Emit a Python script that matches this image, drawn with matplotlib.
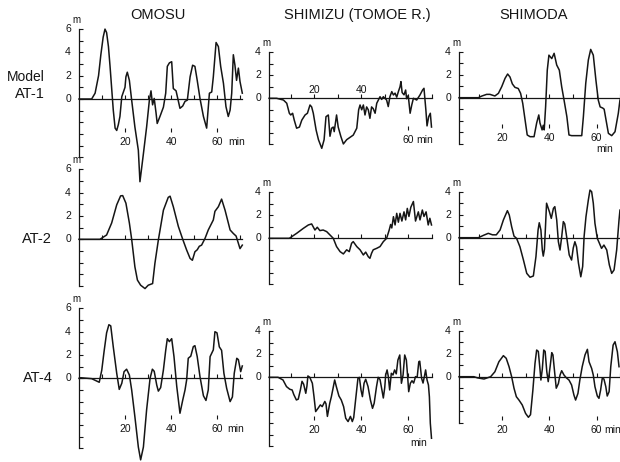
import numpy as np
import matplotlib
matplotlib.use('Agg')
import matplotlib.pyplot as plt

plt.rcParams['font.family'] = ['Liberation Sans', 'DejaVu Sans']

stations = ['OMOSU', 'SHIMIZU (TOMOE R.)', 'SHIMODA']
models = ['AT-1', 'AT-2', 'AT-4']
time_labels = [20, 40, 60]

# (time [min], water level [m])
omosu_at1 = [(0, 0), (5.5, 0), (7, 0.5), (8.5, 2), (9.5, 3.8), (10.5, 5.3), (11.3, 6.0), (12, 5.7),
             (12.8, 4.5), (13.5, 2.8), (14.9, -0.95), (15.7, -2.5), (16.4, -2.7), (17.1, -2.2),
             (17.8, -1.5), (18.6, 0.2), (19.3, 0.6), (20, 1.0), (20.4, 1.9), (21.0, 2.3), (21.9, 1.6),
             (22.9, -0.1), (24.3, -2.4), (25.8, -4.4), (26.5, -7.1), (28, -4.7), (29.4, -2.4),
             (30.6, -0.1), (31.3, 0.7), (32.0, -0.5), (32.7, 0.05), (33.5, -1.2), (34.0, -2.1),
             (35.2, -1.5), (36.7, -0.7), (37.7, 0.5), (38.4, 2.8), (39.3, 3.1), (40.3, 3.2),
             (41.0, 0.9), (42.2, 0.7), (43.9, -0.8), (45.1, -0.6), (46.1, -0.2), (47.1, -0.1),
             (48.3, 1.9), (49.4, 2.9), (50.4, 2.8), (51.4, 1.6), (52.6, 0.05), (54.1, -1.5),
             (55.5, -2.5), (56.7, 0.5), (57.7, 0.6), (58.4, 1.9), (59.6, 4.85), (60.6, 4.5),
             (61.6, 2.8), (62.8, 1.35), (63.9, -0.66), (64.9, -1.5), (65.7, -0.95), (66.4, 0.5),
             (67.1, 3.8), (67.8, 2.9), (68.5, 1.6), (69.3, 2.65), (70, 1.5), (71, 0.5)]
omosu_at2 = [(0, 0), (9.1, 0), (12, 0.37), (14.2, 1.4), (16.4, 2.96), (18.1, 3.73), (19, 3.75),
             (20.4, 3.1), (21.9, 1.4), (22.9, 0), (24.3, -2.36), (25.4, -3.5), (26.8, -3.94),
             (28.7, -4.23), (30.1, -3.94), (32, -3.8), (33, -2.07), (34.5, -0.06), (36.7, 2.5),
             (38.8, 3.6), (39.6, 3.7), (41, 2.8), (43.2, 1.1), (45.1, 0), (46.8, -0.92), (48.3, -1.64),
             (49.3, -1.8), (50.4, -1.07), (51.4, -0.9), (52.3, -0.6), (53.3, -0.5), (54.8, 0.08),
             (56.2, 0.8), (58.4, 1.66), (59.1, 2.4), (60.6, 2.8), (62, 3.45), (63.5, 2.5), (65.7, 0.8),
             (67.1, 0.5), (68.3, 0.28), (69.3, -0.35), (70, -0.8), (71, -0.5)]
omosu_at4 = [(0, 0), (0.7, 0.05), (5.5, -0.03), (8.8, -0.34), (9.9, 0.7), (10.9, 2.3), (12, 3.9),
             (13, 4.6), (13.8, 4.5), (14.9, 2.7), (16.4, 0.43), (17.5, -0.95), (18.6, -0.43),
             (19.6, 0.57), (20.7, 0.78), (21.9, 0.28), (22.9, -1), (24.3, -3.3), (25.8, -5.9),
             (26.8, -7.0), (28, -5.9), (29.4, -2.7), (30.9, 0), (31.9, 0.78), (32.7, 0.6), (33.8, -0.58),
             (34.5, -1.1), (35.5, -0.8), (36.7, 0.72), (37.7, 2.4), (38.4, 3.4), (39.3, 3.15),
             (40.3, 3.4), (41.3, 1.86), (42.5, -0.7), (43.9, -3.0), (45.1, -1.87), (46.1, -1),
             (46.8, -0.14), (47.5, 1.72), (48.6, 1.9), (49.7, 2.72), (50.4, 2.8), (51.4, 1.86),
             (52.6, 0.14), (54.1, -1.5), (55.2, -1.9), (56.2, -1), (57, 1.86), (58.4, 2.44), (59.1, 4.0),
             (60.0, 3.9), (61.0, 2.7), (62, 2.4), (63, 0.43), (64.2, -0.86), (65.7, -2.0), (66.7, -1.6),
             (67.5, 0.43), (68.6, 1.72), (69.3, 1.6), (70.3, 0.57), (71, 1.06)]

shimizu_at1 = [(0.9, 0), (4.1, 0), (7, -0.15), (8.4, -0.43), (9.5, -1.3), (10.1, -1.45), (10.9, -1.3),
               (11.6, -1.9), (12.6, -2.6), (13.8, -2.5), (14.8, -1.9), (16.2, -1.45), (17.2, -1.3),
               (18.3, -0.58), (19, -0.75), (19.7, -1.3), (20.9, -2.76), (21.9, -3.6), (23.3, -4.35),
               (24.3, -3.6), (25.1, -1.6), (26.1, -1.45), (26.8, -3.3), (27.5, -2.6), (28.2, -2.5),
               (28.6, -2.9), (29.6, -1.45), (30.3, -2.5), (31.4, -3.3), (32.5, -3.97), (33.9, -3.6),
               (35.3, -3.4), (36.7, -3.2), (38.2, -2.6), (39, -1.0), (39.6, -0.58), (40.3, -1),
               (41, -0.58), (41.7, -1.45), (42.4, -0.75), (43.1, -1.0), (43.8, -1.74), (44.5, -0.75),
               (45.2, -0.9), (46, -1.3), (46.7, -0.43), (48.1, 0.14), (48.8, -0.1), (49.5, 0.14),
               (50.9, -0.15), (51.6, -0.72), (52.3, 0.14), (53.1, 0.58), (53.8, 0.29), (54.5, 0.45),
               (55.2, 0.1), (55.9, 0.58), (56.6, 1.0), (57.0, 1.45), (57.5, 0.5), (58.3, 0.3),
               (59, 0.72), (59.4, -0.04), (60.1, 0.25), (60.9, -1.3), (61.6, -0.58), (62.3, 0),
               (63.7, -0.15), (65.1, 0.29), (66.2, 0.72), (66.8, 0.87), (67.6, -1.0), (68.1, -2.4),
               (68.8, -1.6), (69.5, -1.3), (70, -2.5)]
shimizu_at2 = [(0.9, 0), (9.5, 0), (12.6, 0.43), (15.5, 0.87), (17.6, 1.16), (19, 1.25), (20.4, 0.72),
               (21.4, 0.96), (22.5, 0.67), (23.9, 0.72), (25.4, 0.58), (26.8, 0.29), (28.2, 0),
               (29.6, -0.72), (31.1, -1.16), (32.5, -1.36), (33.9, -1.0), (35, -1.16), (36, -0.43),
               (36.7, -0.29), (38.2, -0.72), (39.6, -1.0), (41, -1.45), (42, -1.2), (43.1, -1.6),
               (43.8, -1.74), (44.5, -1.3), (45.2, -1.0), (46.7, -0.87), (48.1, -0.72), (49.5, -0.29),
               (50.9, 0), (52, 0.72), (52.6, 1.2), (53.1, 0.9), (53.8, 1.88), (54.5, 1.16), (55.2, 2.17),
               (55.9, 1.4), (56.6, 2.17), (57.4, 1.5), (58.3, 2.3), (59, 1.6), (59.7, 2.6), (60.4, 1.9),
               (61.2, 2.7), (62.3, 3.2), (63.2, 1.5), (64.4, 2.3), (65.1, 1.6), (66.1, 2.46),
               (66.8, 1.9), (67.7, 2.3), (68.6, 1.16), (69.3, 1.74), (70, 1.16)]
shimizu_at4 = [(0.9, 0), (4.7, 0), (6.8, -0.23), (8.3, -0.81), (9.7, -1.04), (10.7, -1.1), (11.4, -1.5),
               (12.5, -1.97), (13.3, -1.9), (14.2, -1.1), (14.9, -0.35), (15.6, -0.6), (16.5, -1.39),
               (17, -0.75), (17.4, 0.12), (18.2, 0), (19.3, -0.52), (20, -1.68), (20.7, -2.98),
               (21.7, -2.7), (22.7, -2.4), (23.5, -2.55), (24.6, -2.1), (25.1, -2.3), (25.7, -3.4),
               (26.7, -2.26), (27.4, -1.68), (28.1, -0.96), (28.8, -0.23), (29.5, -0.81), (30.6, -1.62),
               (31.6, -1.97), (32.6, -2.55), (33.5, -3.56), (34.5, -3.85), (35.5, -3.4), (36.3, -3.85),
               (36.9, -3.5), (37.7, -1.97), (38.7, -0.09), (39.3, 0), (40, -1.1), (40.6, -1.68),
               (41.3, -0.52), (42, -0.17), (43, -0.81), (44, -1.97), (44.9, -2.7), (45.6, -2.26),
               (46.6, -0.81), (47.3, 0), (48.1, -0.2), (48.9, -1.1), (49.5, -1.8), (50.1, -0.9),
               (50.5, 0.2), (51.1, 0.64), (51.6, 0.1), (52.2, -1.1), (52.9, 0.35), (53.6, 0.2),
               (54.3, 0.64), (55, 0.3), (55.7, 1.5), (56.5, 1.94), (57.2, -0.52), (57.9, 0.2),
               (58.6, 1.94), (59.3, 1.5), (59.8, 0.2), (60.3, -1.25), (61, -0.52), (61.7, -0.3),
               (62.4, -0.5), (63.2, 0.06), (63.9, 0), (64.6, 1.36), (65, 1.4), (65.8, -0.1),
               (66.4, -0.5), (67.1, 0.2), (67.5, 0.64), (68.1, -0.23), (68.7, -0.67), (69.1, -1.7),
               (69.5, -4.0), (70, -5.3)]

shimoda_at1 = [(1.7, 0), (9.9, 0), (11.3, 0.14), (13.4, 0.29), (14.8, 0.29), (16.9, 0.15), (18.4, 0.38),
               (19.8, 0.96), (21.2, 1.68), (22.3, 2.06), (23.3, 1.8), (24.3, 1.2), (25.4, 0.9),
               (26.8, 0.8), (27.8, 0.38), (28.7, -0.49), (29.7, -1.94), (30.6, -3.24), (31.8, -3.39),
               (33.5, -3.39), (34.6, -2.2), (35.5, -1.5), (36.0, -2.2), (36.9, -2.8), (37.4, -2.4),
               (37.8, -2.8), (38.4, -0.78), (39.1, 2.4), (39.8, 3.7), (41, 3.4), (42, 3.86),
               (43.1, 2.84), (44.2, 2.4), (45.2, 0.96), (46.2, -0.2), (47.4, -1.65), (48.3, -3.24),
               (49.4, -3.3), (53.7, -3.3), (54.4, -1.65), (55.4, 1.25), (56.5, 3.28), (57.5, 4.2),
               (58.6, 3.7), (59.7, 1.54), (60.7, -0.2), (61.5, -0.8), (62.6, -0.9), (63.2, -1.0),
               (64, -1.94), (65, -3.1), (66.4, -3.3), (67.8, -2.96), (69.2, -1.36), (69.9, -0.2)]
shimoda_at2 = [(1.7, 0), (9.9, 0), (12, 0.2), (14.1, 0.38), (15.9, 0.25), (17.5, 0.25), (19.1, 0.67),
               (20.5, 1.54), (22.2, 2.35), (23, 1.97), (24, 0.96), (25, 0.14), (26.1, -0.06),
               (27.5, -0.78), (29, -1.94), (30.4, -3.1), (31.8, -3.44), (33.2, -3.33), (34.3, -1.65),
               (35.2, 0.67), (35.7, 1.3), (36.4, 0.67), (37, -1.07), (37.4, -1.6), (37.9, -1.0),
               (38.8, 3.0), (40, 2.26), (40.8, 1.68), (41.7, 2.55), (42.3, 2.7), (43.1, 1.54),
               (43.8, -0.35), (44.5, -1.07), (45.2, 0.06), (45.9, 1.4), (46.5, 1.2), (47.3, 0.09),
               (48.4, -1.5), (49.4, -1.94), (50.1, -0.9), (50.8, -0.35), (51.5, -0.8), (52.3, -2.2),
               (53.3, -3.4), (54.1, -2.5), (54.7, 0.09), (55.5, 1.83), (56.5, 3.28), (57.2, 4.14),
               (57.9, 4.0), (58.6, 3.0), (59.3, 1.25), (60.3, -0.06), (61.2, -0.49), (62.1, -0.93),
               (63.1, -0.64), (64.3, -1.07), (65.4, -2.37), (66.4, -3.1), (67.4, -2.8), (68.5, -1.07),
               (69.5, 1.54), (69.9, 2.4)]
shimoda_at4 = [(1.7, 0), (8, 0), (9.5, -0.1), (12.3, -0.2), (15.1, 0), (16.9, 0.43), (18.6, 1.3),
               (20.5, 1.83), (21.7, 1.6), (22.9, 0.87), (24, 0), (25, -1.0), (26, -1.74), (27.1, -2.03),
               (28.5, -2.46), (29.9, -3.19), (31.1, -3.53), (32, -3.3), (33, -1.16), (33.9, 1.16),
               (34.6, 2.32), (35.3, 2.2), (36, 0.67), (36.4, -0.29), (37, 0.67), (37.6, 2.32),
               (38.2, 2.2), (38.9, 0.43), (39.5, -0.43), (40.3, 0.87), (41, 2.09), (41.5, 1.9),
               (42.2, 0.43), (42.9, -1.0), (43.8, -0.6), (44.5, 0.14), (45.2, 0.52), (46.2, 0.14),
               (47.2, -0.1), (48.3, -0.29), (49.4, -0.72), (50.4, -1.6), (51.1, -2.03), (52.1, -1.45),
               (52.9, -0.29), (53.9, 0.87), (55.1, 1.9), (56.1, 2.38), (56.8, 1.3), (57.9, 0.72),
               (58.6, 0.14), (59.3, -0.87), (60.3, -1.68), (61, -1.88), (61.7, -1.16), (62.4, -0.14),
               (63.1, -0.2), (63.9, -0.87), (64.5, -1.68), (65.3, -1.3), (66, 0.87), (67, 2.75),
               (67.8, 3.04), (68.8, 2.17), (69.5, 0.87)]

traces = [[omosu_at1, shimizu_at1, shimoda_at1],
          [omosu_at2, shimizu_at2, shimoda_at2],
          [omosu_at4, shimizu_at4, shimoda_at4]]

# y-axis extent of each panel [m]
y_ranges = [[(-5, 6), (-4, 4), (-4, 4)],
            [(-4, 6), (-4, 4), (-4, 4)],
            [(-6, 6), (-6, 4), (-4, 4)]]

# page layout, in pixels of the 620 x 462 figure
W, H = 620, 462
col_x0 = [79, 267, 455]          # x of t = 0
col_sx = [2.3, 2.35, 2.36]       # px per minute
col_sy = [11.65, 11.5, 11.5]     # px per metre
col_axis_t = [0, 0.9, 1.7]
col_end_t = [71, 70, 70]
row_y0 = [[99, 98.3, 97.7], [239.3, 238.3, 237.7], [378.3, 377.3, 376.7]]

# where the hand lettered time labels sit: (row, col) -> (label level, "min" position)
label_spec = {(0, 0): (-3.65, (68.5, -3.65)),
              (0, 1): (-3.6, (67.2, -3.6)),
              (0, 2): (-3.5, (63.6, -4.5)),
              (2, 0): (-4.35, (68.0, -4.35)),
              (2, 1): (-4.6, (64.6, -5.75)),
              (2, 2): (-4.63, (66.9, -4.63))}

ink = '#151515'
fig = plt.figure(figsize=(6.2, 4.62), dpi=100)


def make_panel(x0, y0, sx, sy):
    tlo, thi, hlo, hhi = -14, 76, -9, 8
    left, right = x0 + tlo * sx, x0 + thi * sx
    top, bottom = y0 - hhi * sy, y0 - hlo * sy
    ax = fig.add_axes([left / W, 1 - bottom / H, (right - left) / W, (bottom - top) / H])
    ax.set_xlim(tlo, thi)
    ax.set_ylim(hlo, hhi)
    ax.axis('off')
    return ax


for r in range(3):
    for c in range(3):
        sx, sy = col_sx[c], col_sy[c]
        ax = make_panel(col_x0[c], row_y0[r][c], sx, sy)
        ta = col_axis_t[c]
        ylo, yhi = y_ranges[r][c]

        # bracket-like vertical scale
        ax.plot([ta, ta], [ylo, yhi], color=ink, lw=0.9)
        ax.hlines(np.arange(ylo, yhi + 1), ta, ta + 4 / sx, color=ink, lw=0.8)
        for v in range(0, yhi + 1, 2):
            ax.text(ta - 11 / sx, v, str(v), ha='center', va='center', fontsize=7.5, color=ink)
        ax.text(ta - 3 / sx, yhi + 0.35, 'm', ha='center', va='bottom', fontsize=7, color=ink)

        # zero line with 10 min marks
        ax.plot([ta, col_end_t[c]], [0, 0], color=ink, lw=0.9)
        ax.vlines(np.arange(10, col_end_t[c] + 0.5, 10), 0, 0.35, color=ink, lw=0.8)

        # time labels
        if (r, c) in label_spec:
            lh, (mt, mh) = label_spec[(r, c)]
            for t in time_labels:
                if r == 0 and c == 1 and t < 60:
                    ax.text(t, 0.75, str(t), ha='center', va='center', fontsize=7.5, color=ink)
                    continue
                ax.text(t, lh, str(t), ha='center', va='center', fontsize=7.5, color=ink)
                ax.vlines(t, lh + 0.85, lh + 1.2, color=ink, lw=0.8)
            ax.text(mt, mh, 'min', ha='center', va='center', fontsize=7.5, color=ink)

        tt, hh = np.array(traces[r][c]).T
        ax.plot(tt, hh, color=ink, lw=1.1, clip_on=False)

# column titles and row labels
title_x = [158, 357, 534]
for name, x in zip(stations, title_x):
    fig.text(x / W, 1 - 15 / H, name, ha='center', va='center', fontsize=10.5, color=ink)

fig.text(26 / W, 1 - 77 / H, 'Model', ha='center', va='center', fontsize=10, color=ink)
label_y = [94.5, 239, 378]
label_right = [45, 51.5, 52.5]
for name, y, x in zip(models, label_y, label_right):
    fig.text(x / W, 1 - y / H, name, ha='right', va='center', fontsize=10.5, color=ink)

fig.savefig('out.png', dpi=100, facecolor='white')
